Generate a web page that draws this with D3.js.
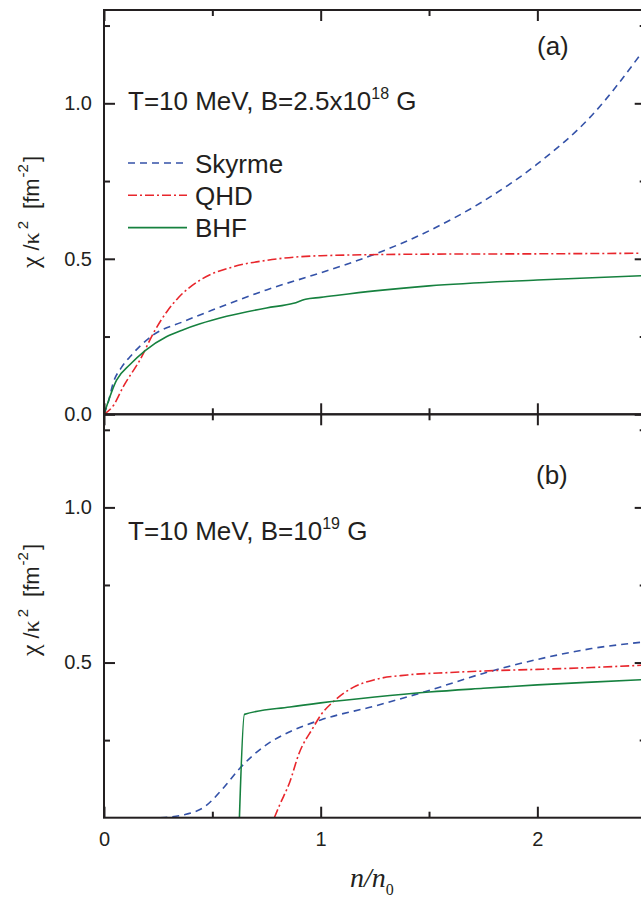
<!DOCTYPE html>
<html>
<head>
<meta charset="utf-8">
<script src="https://cdn.jsdelivr.net/npm/d3@7"></script>
<style>
    body { margin: 0; background: #fff; }
    svg text { font-family: "Liberation Sans", Arial, sans-serif; fill: #231f20; }
</style>
</head>
<body>
<div id="graph"></div>
<script>
"use strict";

// ticks
const xMajor = [0, 1, 2];
const xMinor = [0.5, 1.5, 2.5];
const yMajorA = [0, 0.5, 1.0];
const yMajorB = [0.5, 1.0];
const yMinor = [0.25, 0.75, 1.25];

const seriesNames = ["Skyrme", "QHD", "BHF"];

// panel (a): T=10 MeV, B=2.5x10^18 G
const skyrmeA_n   = [0, 0.02, 0.042, 0.08, 0.12, 0.227, 0.366, 0.5, 0.75, 1.0, 1.25, 1.5, 1.75, 2.0, 2.25, 2.5];
const skyrmeA_chi = [0, 0.04, 0.10, 0.15, 0.185, 0.255, 0.298, 0.335, 0.40, 0.455, 0.515, 0.59, 0.685, 0.805, 0.96, 1.18];
const qhdA_n      = [0, 0.045, 0.089, 0.166, 0.235, 0.29, 0.343, 0.44, 0.6, 0.75, 1.0, 1.5, 2.0, 2.5];
const qhdA_chi    = [0, 0.03, 0.089, 0.175, 0.27, 0.33, 0.375, 0.43, 0.475, 0.495, 0.51, 0.515, 0.516, 0.518];
const bhfA_n      = [0, 0.058, 0.12, 0.19, 0.29, 0.366, 0.44, 0.566, 0.75, 0.875, 0.93, 1.0, 1.25, 1.5, 2.0, 2.5];
const bhfA_chi    = [0, 0.11, 0.16, 0.205, 0.25, 0.272, 0.29, 0.315, 0.342, 0.357, 0.37, 0.376, 0.397, 0.413, 0.432, 0.446];

// panel (b): T=10 MeV, B=10^19 G
const skyrmeB_n   = [0.26, 0.366, 0.466, 0.55, 0.628, 0.735, 0.858, 1.0, 1.25, 1.5, 1.75, 2.0, 2.25, 2.5];
const skyrmeB_chi = [0, 0.009, 0.036, 0.095, 0.16, 0.228, 0.277, 0.315, 0.36, 0.41, 0.465, 0.51, 0.545, 0.567];
const qhdB_n      = [0.786, 0.81, 0.858, 0.9, 0.965, 1.0, 1.06, 1.15, 1.25, 1.4, 1.6, 1.8, 2.0, 2.25, 2.5];
const qhdB_chi    = [0, 0.04, 0.116, 0.207, 0.29, 0.33, 0.375, 0.42, 0.445, 0.46, 0.468, 0.474, 0.478, 0.484, 0.492];
const bhfB_n      = [0.625, 0.648, 0.858, 1.0, 1.25, 1.5, 1.75, 2.0, 2.25, 2.5];
const bhfB_chi    = [0, 0.333, 0.357, 0.37, 0.389, 0.405, 0.417, 0.428, 0.437, 0.445];

(function() {
    const svgSize = {
        width : 641,
        height: 898,
    };
    const plot = { left: 104, right: 645.7 };
    const panelA = { top: 10, bottom: 414.3 };
    const panelB = { top: 414.3, bottom: 817.7 };
    const ink = "#231f20";

    const styles = {
        Skyrme: { color: "#3452a8", dash: "7,5" },
        QHD:    { color: "#e8262c", dash: "9,3,2,3" },
        BHF:    { color: "#16813f", dash: null },
    };

    window.addEventListener("load", init);

    function init() {
        let svg = d3.select("#graph")
                    .append("svg")
                        .attr("width", svgSize.width)
                        .attr("height", svgSize.height);

        let x = d3.scaleLinear().domain([0, 2.5]).range([plot.left, plot.right]);
        let yA = d3.scaleLinear().domain([0, 1.3]).range([panelA.bottom, panelA.top]);
        let yB = d3.scaleLinear().domain([0, 1.3]).range([panelB.bottom, panelB.top]);

        let defs = svg.append("defs");
        clip(defs, "clipA", panelA);
        clip(defs, "clipB", panelB);

        drawPanel(svg, x, yA, panelA, "clipA", {
            Skyrme: [skyrmeA_n, skyrmeA_chi],
            QHD:    [qhdA_n, qhdA_chi],
            BHF:    [bhfA_n, bhfA_chi],
        }, yMajorA, ["0.0", "0.5", "1.0"], false);

        drawPanel(svg, x, yB, panelB, "clipB", {
            Skyrme: [skyrmeB_n, skyrmeB_chi],
            QHD:    [qhdB_n, qhdB_chi],
            BHF:    [bhfB_n, bhfB_chi],
        }, yMajorB, ["0.5", "1.0"], true);

        // annotations
        field(svg, 128, 110, "T=10 MeV, B=2.5x10", "18");
        field(svg, 128, 540, "T=10 MeV, B=10", "19");
        svg.append("text").attr("x", 537).attr("y", 55)
            .attr("font-size", 26).text("(a)");
        svg.append("text").attr("x", 536).attr("y", 484)
            .attr("font-size", 26).text("(b)");

        // legend
        let lg = svg.append("g");
        seriesNames.forEach((name, i) => {
            let yy = 163 + i * 32.3;
            lg.append("line")
                .attr("x1", 128).attr("x2", 187)
                .attr("y1", yy).attr("y2", yy)
                .attr("stroke", styles[name].color)
                .attr("stroke-width", 1.6)
                .attr("stroke-dasharray", styles[name].dash);
            lg.append("text")
                .attr("x", 195).attr("y", yy + 9.5)
                .attr("font-size", 26)
                .text(name);
        });

        // y labels
        yLabel(svg, 212);
        yLabel(svg, 600);

        // x label
        let xl = svg.append("text")
                    .attr("x", 350).attr("y", 887)
                    .style("font-family", "'Liberation Serif', 'Times New Roman', serif");
        xl.append("tspan").attr("font-size", 28).attr("font-style", "italic").text("n/n");
        xl.append("tspan").attr("font-size", 16).attr("dy", 8).text("0");
    }

    function drawPanel(svg, x, y, panel, clipId, data, yMajor, yLabels, showX) {
        let g = svg.append("g");

        let line = d3.line()
                    .x(d => x(d[0]))
                    .y(d => y(d[1]))
                    .curve(d3.curveMonotoneX);

        let lines = g.append("g").attr("clip-path", "url(#" + clipId + ")");
        seriesNames.forEach((name) => {
            let pts = d3.zip(data[name][0], data[name][1]);
            lines.append("path")
                .datum(pts)
                .attr("d", line)
                .attr("fill", "none")
                .attr("stroke", styles[name].color)
                .attr("stroke-width", 1.6)
                .attr("stroke-dasharray", styles[name].dash);
        });

        // left axis
        axis(g, d3.axisLeft(y).tickValues(yMajor).tickSize(-11).tickPadding(12)
                .tickFormat((d, i) => yLabels[i]), plot.left, 0, 20);
        axis(g, d3.axisLeft(y).tickValues(yMinor).tickSize(-6).tickFormat(""), plot.left, 0);
        // right axis
        axis(g, d3.axisRight(y).tickValues(yMajor).tickSize(-11).tickFormat(""), plot.right, 0);
        axis(g, d3.axisRight(y).tickValues(yMinor).tickSize(-6).tickFormat(""), plot.right, 0);
        // top axis
        axis(g, d3.axisTop(x).tickValues(xMajor).tickSize(-11).tickFormat(""), 0, panel.top);
        axis(g, d3.axisTop(x).tickValues(xMinor).tickSize(-6).tickFormat(""), 0, panel.top);
        // bottom axis
        let bottom = d3.axisBottom(x).tickValues(xMajor).tickSize(-11).tickPadding(14);
        if (!showX) {
            bottom.tickFormat("");
        } else {
            bottom.tickFormat(d3.format("d"));
        }
        axis(g, bottom, 0, panel.bottom, 20);
        axis(g, d3.axisBottom(x).tickValues(xMinor).tickSize(-6).tickFormat(""), 0, panel.bottom);

        // frame
        g.append("rect")
            .attr("x", plot.left).attr("y", panel.top)
            .attr("width", plot.right - plot.left)
            .attr("height", panel.bottom - panel.top)
            .attr("fill", "none")
            .attr("stroke", ink)
            .attr("stroke-width", 2);
    }

    function axis(g, ax, tx, ty, fontSize) {
        let a = g.append("g")
                    .attr("transform", "translate(" + tx + "," + ty + ")")
                    .call(ax);
        a.select(".domain").remove();
        a.selectAll("line").attr("stroke", ink).attr("stroke-width", 2);
        a.selectAll("text")
            .attr("fill", ink)
            .style("font-family", "'Liberation Sans', Arial, sans-serif")
            .attr("font-size", fontSize || 10);
    }

    function clip(defs, name, panel) {
        defs.append("clipPath").attr("id", name)
            .append("rect")
                .attr("x", plot.left).attr("y", panel.top)
                .attr("width", plot.right - plot.left)
                .attr("height", panel.bottom - panel.top);
    }

    function field(svg, x, y, main, power) {
        let t = svg.append("text").attr("x", x).attr("y", y).attr("font-size", 26);
        t.append("tspan").text(main);
        t.append("tspan").attr("font-size", 16).attr("dy", -11).text(power);
        t.append("tspan").attr("dy", 11).text(" G");
    }

    // rotated unit label, spaced out like the original
    function yLabel(svg, cy) {
        let serif = "'Liberation Serif', 'Times New Roman', serif";
        let t = svg.append("text")
                    .attr("transform", "translate(39," + cy + ") rotate(-90)")
                    .attr("text-anchor", "middle")
                    .attr("font-size", 22);
        t.append("tspan").style("font-family", serif).attr("font-size", 26).text("\u03c7");
        t.append("tspan").attr("dx", 6).text("/");
        t.append("tspan").style("font-family", serif).attr("font-size", 24).text("\u03ba");
        t.append("tspan").attr("font-size", 15).attr("dx", 3).attr("dy", -11).text("2");
        t.append("tspan").attr("dx", 12).attr("dy", 11).text("[fm");
        t.append("tspan").attr("font-size", 15).attr("dx", 1).attr("dy", -11).text("-2");
        t.append("tspan").attr("dx", 2).attr("dy", 11).text("]");
    }
})();
</script>
</body>
</html>
